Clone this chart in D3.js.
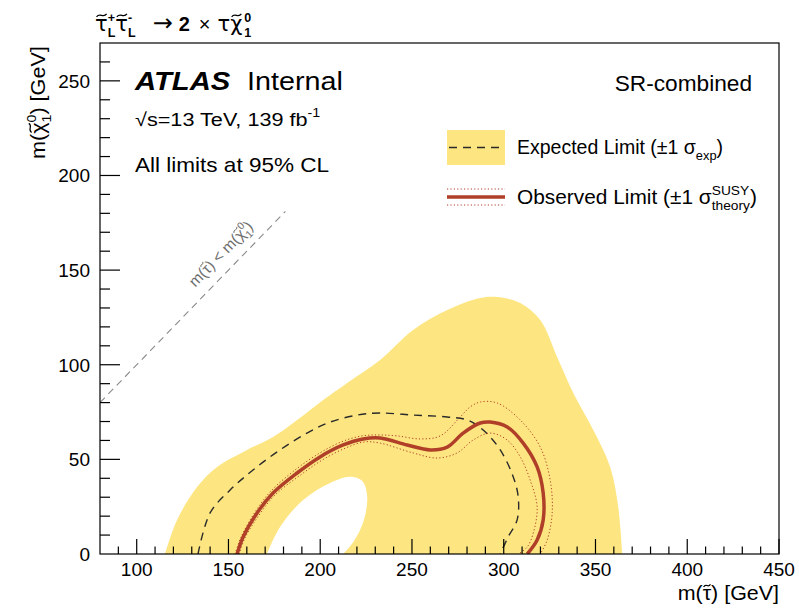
<!DOCTYPE html>
<html>
<head>
<meta charset="utf-8">
<script src="https://cdn.jsdelivr.net/npm/d3@7"></script>
<style>
  body { margin: 0; background: #fff; }
  svg text { font-family: "Liberation Sans", Arial, sans-serif; fill: #000; }
</style>
</head>
<body>
<svg id="chart" width="799" height="609"></svg>
<script>
// ---- values (GeV)
const xTicks = [100, 150, 200, 250, 300, 350, 400, 450];
const yTicks = [0, 50, 100, 150, 200, 250];

// expected +-1 sigma band: outer edge and the hole inside it
const bandOuter = [
  [115.4, 0], [122.0, 18.0], [132.9, 35.4], [143.8, 46.0], [160.1, 55.0], [174.3, 61.8],
  [187.4, 70.8], [201.6, 81.4], [214.7, 90.4], [232.6, 102.5], [250.6, 118.4], [269.2, 128.9],
  [287.2, 135.3], [296.4, 135.8], [309.0, 132.6], [319.9, 123.6], [329.1, 104.1], [337.9, 85.1],
  [348.8, 65.5], [358.0, 46.0], [362.4, 24.8], [364.6, 0]
];
const bandHole = [
  [171.0, 0], [178.1, 14.3], [190.7, 28.5], [205.4, 37.5], [216.0, 40.8], [223.0, 38.5],
  [225.6, 30.0], [223.5, 17.0], [218.5, 7.0], [212.5, 0]
];
const expectedLine = [
  [133.4, 0], [140.0, 21.7], [150.9, 33.8], [163.4, 44.4], [178.1, 55.0], [192.8, 63.9],
  [205.4, 69.7], [220.1, 73.4], [232.6, 74.5], [250.6, 73.4], [269.2, 72.4], [280.1, 70.8],
  [288.8, 65.5], [298.1, 55.0], [305.2, 40.7], [307.9, 30.1], [307.3, 18.0], [302.4, 9.0], [298.1, 0]
];
const observedLine = [
  [154.7, 0], [158.0, 9.0], [165.6, 21.7], [174.3, 32.2], [187.4, 42.8], [199.9, 51.3],
  [212.5, 57.6], [223.4, 60.8], [232.6, 61.3], [247.4, 57.6], [259.9, 55.0], [269.2, 56.5],
  [277.9, 63.9], [287.2, 69.2], [292.6, 69.7], [301.9, 67.1], [310.6, 58.6], [318.2, 46.0],
  [321.5, 32.2], [321.5, 18.0], [318.2, 7.4], [312.8, 0]
];
const observedUp = [
  [153.6, 0], [156.9, 9.0], [164.5, 22.2], [173.2, 33.3], [186.3, 44.4], [198.8, 52.8],
  [211.4, 59.2], [222.8, 62.4], [232.6, 62.9], [241.9, 62.4], [254.5, 60.8], [265.4, 62.4],
  [276.3, 72.4], [281.7, 77.7], [287.2, 80.3], [296.4, 79.8], [309.0, 70.8], [319.9, 56.5],
  [325.3, 39.1], [326.4, 21.7], [323.7, 7.4], [319.9, 0]
];
const observedDown = [
  [155.8, 0], [159.0, 8.5], [166.7, 20.6], [175.4, 31.2], [188.5, 41.2], [201.0, 49.6],
  [213.6, 55.9], [224.0, 59.2], [232.6, 58.6], [250.6, 53.4], [263.7, 50.7], [274.6, 53.4],
  [283.3, 60.2], [292.6, 63.9], [301.9, 60.2], [309.0, 51.3], [314.4, 39.1], [318.2, 24.8],
  [316.1, 11.1], [312.8, 3.7], [307.9, 0]
];
const kinematicLine = [[80, 80], [181, 181]];

// ---- layout
const svg = d3.select('#chart');
const pl = 100, pr = 779, pt = 43, pb = 554;
const x = d3.scaleLinear().domain([80, 450]).range([pl, pr]);
const y = d3.scaleLinear().domain([0, 270]).range([pb, pt]);

const yellow = '#fde681';
const red = '#b03f29';

svg.append('clipPath').attr('id', 'frame')
  .append('rect').attr('x', pl).attr('y', pt).attr('width', pr - pl).attr('height', pb - pt);

const plot = svg.append('g').attr('clip-path', 'url(#frame)');
const line = d3.line().x(d => x(d[0])).y(d => y(d[1])).curve(d3.curveCatmullRom.alpha(0.5));

// yellow band with hole (evenodd)
plot.append('path')
  .attr('d', line(bandOuter) + 'Z' + line(bandHole) + 'Z')
  .attr('fill', yellow)
  .attr('fill-rule', 'evenodd');

// kinematic limit
plot.append('path')
  .attr('d', d3.line().x(d => x(d[0])).y(d => y(d[1]))(kinematicLine))
  .attr('fill', 'none').attr('stroke', '#8a8a8a').attr('stroke-width', 1.1)
  .attr('stroke-dasharray', '7,5');

// expected
plot.append('path').attr('d', line(expectedLine))
  .attr('fill', 'none').attr('stroke', '#2a2a2a').attr('stroke-width', 1.4)
  .attr('stroke-dasharray', '8,6');

// observed +-1 sigma theory
[observedUp, observedDown].forEach(s => {
  plot.append('path').attr('d', line(s))
    .attr('fill', 'none').attr('stroke', red).attr('stroke-width', 1)
    .attr('stroke-dasharray', '1.2,2.2');
});
plot.append('path').attr('d', line(observedLine))
  .attr('fill', 'none').attr('stroke', red).attr('stroke-width', 3.5);

// frame
svg.append('rect').attr('x', pl).attr('y', pt).attr('width', pr - pl).attr('height', pb - pt)
  .attr('fill', 'none').attr('stroke', '#000').attr('stroke-width', 1.2);

// ticks
const axes = svg.append('g').attr('stroke', '#000').attr('stroke-width', 1.2);
d3.range(90, 451, 10).forEach(v => {
  const major = v % 50 === 0;
  axes.append('line').attr('x1', x(v)).attr('x2', x(v))
    .attr('y1', pb).attr('y2', pb - (major ? 15 : 7.5));
});
d3.range(10, 270, 10).forEach(v => {
  const major = v % 50 === 0;
  axes.append('line').attr('y1', y(v)).attr('y2', y(v))
    .attr('x1', pl).attr('x2', pl + (major ? 20 : 10));
});

svg.append('g').selectAll('text').data(xTicks).join('text')
  .attr('x', d => x(d)).attr('y', pb + 22)
  .attr('text-anchor', 'middle').style('font-size', '19px')
  .text(d => d);
svg.append('g').selectAll('text').data(yTicks).join('text')
  .attr('x', pl - 10).attr('y', d => y(d) + 7)
  .attr('text-anchor', 'end').style('font-size', '19px')
  .text(d => d);

// rich text helper: plain parts, tilde accents, gaps and stacked sup/sub parts
function rich(g, x0, y0, parts, size, sx = 1, color = '#000') {
  const grp = g.append('g').attr('transform', `translate(${x0},${y0}) scale(${sx},1)`);
  let cx = 0;
  parts.forEach(p => {
    if (p.gap !== undefined) { cx += p.gap; return; }
    if (p.sup !== undefined || p.sub !== undefined) {
      let w = 0;
      const s = size * 0.66;
      [[p.sup, -size * 0.45], [p.sub, size * 0.32]].forEach(([txt, dy]) => {
        if (!txt) return;
        const t = grp.append('text').attr('x', cx).attr('y', dy).style('fill', color)
          .style('font-size', s + 'px').style('font-weight', p.bold ? 'bold' : null).text(txt);
        w = Math.max(w, t.node().getComputedTextLength());
      });
      cx += w;
      return;
    }
    const fs = p.size || size;
    const t = grp.append('text').attr('x', cx).attr('y', 0).style('fill', color)
      .style('font-size', fs + 'px')
      .style('font-family', p.font || null)
      .style('font-weight', p.bold ? 'bold' : null)
      .style('font-style', p.italic ? 'italic' : null)
      .text(p.t);
    const w = t.node().getComputedTextLength();
    if (p.tilde) {
      const a = cx + w * 0.12, L = w * 0.8, yc = -fs * 0.74, h = fs * 0.07;
      grp.append('path')
        .attr('d', `M${a},${yc + h} C${a + L * 0.35},${yc - 2.2 * h} ${a + L * 0.65},${yc + 2.2 * h} ${a + L},${yc - h}`)
        .attr('fill', 'none').attr('stroke', color).attr('stroke-width', fs * 0.06);
    }
    cx += w;
  });
  return cx * sx;
}

// title
const gk = 'DejaVu Sans';
rich(svg.append('g'), 95, 31, [
  { t: 'τ', tilde: true, size: 21, font: gk }, { sup: '+', sub: 'L', bold: true },
  { t: 'τ', tilde: true, size: 21, font: gk }, { sup: '-', sub: 'L', bold: true }, { gap: 17 },
  { t: '\u2192', font: gk, size: 24 }, { gap: 6 }, { t: '2', bold: true, size: 20 }, { gap: 9 },
  { t: '\u00d7', size: 20 }, { gap: 7 },
  { t: 'τ', size: 21, font: gk }, { t: 'χ', tilde: true, size: 21, font: gk }, { gap: 2 },
  { sup: '0', sub: '1', bold: true }
], 19);

// y axis title (rotated)
rich(svg.append('g').attr('transform', 'translate(45,159) rotate(-90)'), 0, 0, [
  { t: 'm(' }, { t: 'χ', tilde: true }, { sup: '0', sub: '1' }, { t: ') [GeV]' }
], 20, 1.08);

// x axis title, right aligned
const xt = svg.append('g');
const xtw = rich(xt, 0, 600, [{ t: 'm(' }, { t: 'τ', tilde: true }, { t: ') [GeV]' }], 19.5, 1.1);
xt.attr('transform', `translate(${pr - xtw},0)`);

// ATLAS label
rich(svg.append('g'), 135, 90, [{ t: 'ATLAS', bold: true, italic: true }], 25, 1.17);
rich(svg.append('g'), 247, 90, [{ t: 'Internal' }], 25, 1.15);
rich(svg.append('g'), 135, 126, [{ t: '\u221as=13 TeV, 139 fb' }, { sup: '-1' }], 19, 1.14);
rich(svg.append('g'), 135, 172, [{ t: 'All limits at 95% CL' }], 20.5, 1.1);
const sr = svg.append('g');
const srw = rich(sr, 0, 91, [{ t: 'SR-combined' }], 22, 1.03);
sr.attr('transform', `translate(${752 - srw},0)`);

// legend
const lg = svg.append('g');
lg.append('rect').attr('x', 447).attr('y', 130).attr('width', 58).attr('height', 35).attr('fill', yellow);
lg.append('line').attr('x1', 449).attr('x2', 505).attr('y1', 147.5).attr('y2', 147.5)
  .attr('stroke', '#2a2a2a').attr('stroke-width', 1.4).attr('stroke-dasharray', '8,6');
rich(lg, 517, 154, [{ t: 'Expected Limit (\u00b11 σ' }, { sub: 'exp' }, { t: ')' }], 19.5);
[189, 205].forEach(v => lg.append('line').attr('x1', 447).attr('x2', 505).attr('y1', v).attr('y2', v)
  .attr('stroke', red).attr('stroke-width', 1).attr('stroke-dasharray', '1.2,2.2'));
lg.append('line').attr('x1', 447).attr('x2', 505).attr('y1', 197).attr('y2', 197)
  .attr('stroke', red).attr('stroke-width', 3.5);
rich(lg, 517, 204, [{ t: 'Observed Limit (\u00b11 σ' }, { sup: 'SUSY', sub: 'theory' }, { t: ')' }], 19.5, 1.07);

// kinematic label
const ang = Math.atan2(y(181) - y(80), x(181) - x(80)) * 180 / Math.PI;
const kg = svg.append('g');
const kw = rich(kg, 0, 5, [
  { t: 'm(' }, { t: 'τ', tilde: true }, { t: ') < m(' }, { t: 'χ', tilde: true }, { sup: '0', sub: '1' }, { t: ')' }
], 15.5, 1, '#6e6e6e');
kg.attr('transform', `translate(221,254) rotate(${ang}) translate(${-kw / 2},0)`);
</script>
</body>
</html>
